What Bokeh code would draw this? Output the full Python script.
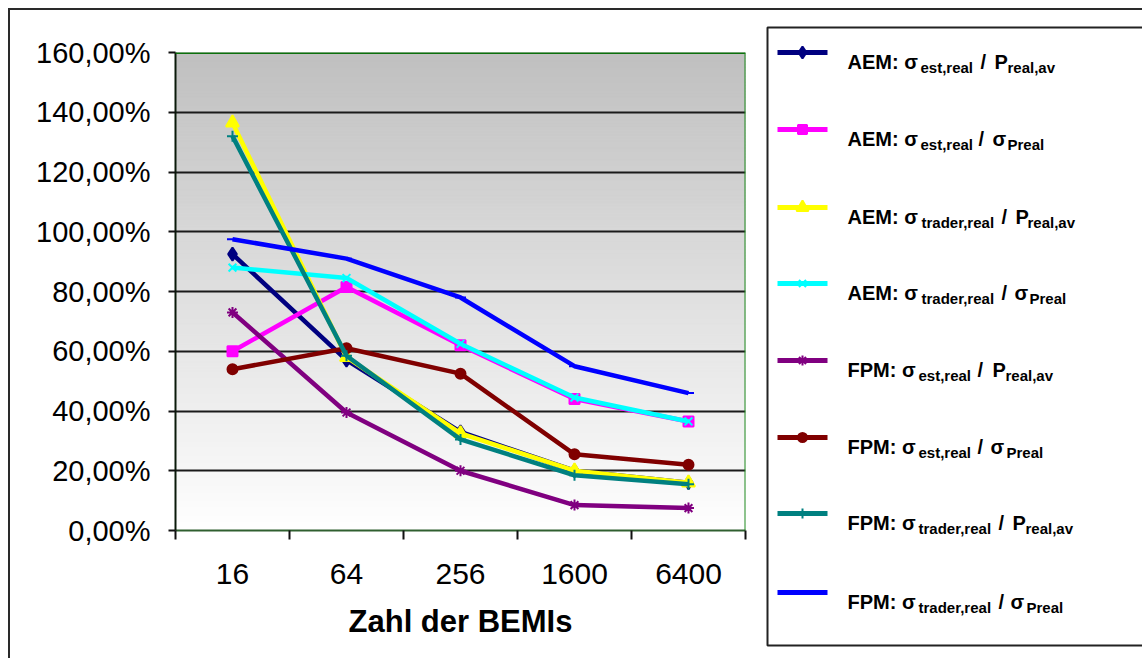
from bokeh.plotting import figure
from bokeh.models import Range1d, FixedTicker, Span
from bokeh.layouts import row
from bokeh.embed import file_html
from bokeh.resources import INLINE
from bokeh.core.properties import value
import numpy as np

# ---------------- data ----------------
categories = ["16", "64", "256", "1600", "6400"]

aem_est_preal_av = [92.5, 57.0, 33.0, 20.0, 16.0]
aem_est_sigma_preal = [60.0, 81.5, 62.0, 44.0, 36.5]
aem_trader_preal_av = [136.5, 58.0, 32.5, 20.0, 16.0]
aem_trader_sigma_preal = [88.0, 84.5, 62.5, 44.5, 36.5]
fpm_est_preal_av = [73.0, 39.5, 20.0, 8.5, 7.5]
fpm_est_sigma_preal = [54.0, 61.0, 52.5, 25.5, 22.0]
fpm_trader_preal_av = [132.0, 58.5, 30.5, 18.5, 15.5]
fpm_trader_sigma_preal = [97.5, 91.0, 78.0, 55.0, 46.0]

series = [aem_est_preal_av, aem_est_sigma_preal, aem_trader_preal_av, aem_trader_sigma_preal,
          fpm_est_preal_av, fpm_est_sigma_preal, fpm_trader_preal_av, fpm_trader_sigma_preal]

legend_prefix = ["AEM: σ", "AEM: σ", "AEM: σ", "AEM: σ", "FPM: σ", "FPM: σ", "FPM: σ", "FPM: σ"]
legend_num_sub = ["est,real", "est,real", "trader,real", "trader,real",
                  "est,real", "est,real", "trader,real", "trader,real"]
legend_den = ["P", "σ", "P", "σ", "P", "σ", "P", "σ"]
legend_den_sub = ["real,av", "Preal", "real,av", "Preal", "real,av", "Preal", "real,av", "Preal"]

y_ticks = [0, 20, 40, 60, 80, 100, 120, 140, 160]
y_tick_labels = ["0,00%", "20,00%", "40,00%", "60,00%", "80,00%",
                 "100,00%", "120,00%", "140,00%", "160,00%"]

x_label = "Zahl der BEMIs"

# ---------------- styles ----------------
colors = ["#000080", "#FF00FF", "#FFFF00", "#00FFFF", "#800080", "#800000", "#008080", "#0000FF"]
markers = ["diamond", "square", "triangle", "x", "asterisk", "circle", "cross", "dash"]
msizes = [13, 10, 13, 11, 11, 10, 11, 11]
FONT = "Liberation Sans"

xs = list(range(len(categories)))

p = figure(width=750, height=648, x_range=Range1d(-0.5, 4.5), y_range=Range1d(0, 160),
           output_backend="svg", toolbar_location=None,
           min_border_left=165, min_border_right=15, min_border_top=42, min_border_bottom=128)
p.outline_line_color = None
p.background_fill_color = "white"
p.border_fill_color = "white"

# gradient background of the plot area (gray at top to white at bottom)
n = 160
edges = np.linspace(0, 160, n + 1)
mids = (edges[:-1] + edges[1:]) / 2
vals = 255 - (255 - 192) * (mids / 160.0)
grad = ["#%02x%02x%02x" % (int(v), int(v), int(v)) for v in vals]
p.quad(left=-0.5, right=4.5, bottom=edges[:-1], top=edges[1:],
       fill_color=grad, line_color=grad, line_width=1, level="image")

# grid
p.xgrid.visible = False
p.ygrid.ticker = FixedTicker(ticks=y_ticks)
p.ygrid.grid_line_color = "#1a1a1a"
p.ygrid.grid_line_width = 2

# y axis
p.yaxis.ticker = FixedTicker(ticks=y_ticks)
p.yaxis.major_label_overrides = dict(zip(y_ticks, y_tick_labels))
p.yaxis.major_label_text_font = FONT
p.yaxis.major_label_text_font_size = "29px"
p.yaxis.major_label_text_color = "black"
p.yaxis.major_tick_out = 7
p.yaxis.major_tick_in = 0
p.yaxis.minor_tick_line_color = None
p.yaxis.major_tick_line_color = "#111111"
p.yaxis.major_tick_line_width = 2
p.yaxis.axis_line_color = "#0a1a0a"
p.yaxis.axis_line_width = 2
p.yaxis.major_label_standoff = 18

# x axis
p.xaxis.ticker = FixedTicker(ticks=xs, minor_ticks=[i - 0.5 for i in range(len(categories) + 1)])
p.xaxis.major_label_overrides = {i: c for i, c in enumerate(categories)}
p.xaxis.major_label_text_font = FONT
p.xaxis.major_label_text_font_size = "30px"
p.xaxis.major_label_text_color = "black"
p.xaxis.major_tick_out = 0
p.xaxis.major_tick_in = 0
p.xaxis.major_tick_line_color = None
p.xaxis.minor_tick_out = 9
p.xaxis.minor_tick_in = 0
p.xaxis.minor_tick_line_color = "#111111"
p.xaxis.minor_tick_line_width = 2
p.xaxis.axis_line_color = "#2f5f2f"
p.xaxis.axis_line_width = 2
p.xaxis.major_label_standoff = 24
p.xaxis.axis_label = x_label
p.xaxis.axis_label_text_font = FONT
p.xaxis.axis_label_text_font_size = "31px"
p.xaxis.axis_label_text_font_style = "bold"
p.xaxis.axis_label_text_color = "black"
p.xaxis.axis_label_standoff = 17

# plot-area border (top and right green)
p.add_layout(Span(location=160, dimension="width", line_color="#0b700b", line_width=3))
p.add_layout(Span(location=4.5, dimension="height", line_color="#1f8a1f", line_width=2))

# series
for vals_s, c, m, s in zip(series, colors, markers, msizes):
    p.line(xs, vals_s, line_color=c, line_width=4.5)
    p.scatter(xs, vals_s, marker=m, size=s, fill_color=c, line_color=c, line_width=2)

# ---------------- legend figure ----------------
LW, LH = 382, 648
lg = figure(width=LW, height=LH, x_range=Range1d(0, LW), y_range=Range1d(LH, 0),
            x_axis_type=None, y_axis_type=None, output_backend="svg", toolbar_location=None,
            min_border=0)
lg.outline_line_color = None
lg.grid.visible = False
lg.background_fill_color = "white"
lg.border_fill_color = "white"

for fig in (p, lg):
    try:
        fig.frame_align = False
    except AttributeError:
        pass

lg.line(x=[LW + 10, 7, 7, LW + 10], y=[17, 17, 635, 635], line_color="#222222", line_width=2)

row_y = [42, 119, 197, 273, 350, 427, 503, 582]
sub_x = [160, 160, 161, 161, 158, 158, 158, 158]
slash_x = [220, 218, 241, 241, 217, 217, 238, 238]
den_x = [234, 232, 255, 254, 232, 230, 252, 250]
densub_x = [247, 247, 267, 269, 245, 246, 265, 266]

lg.segment(x0=[17] * 8, y0=row_y, x1=[67] * 8, y1=row_y, line_color=colors, line_width=5)
for i in range(8):
    lg.scatter([42], [row_y[i]], marker=markers[i], size=msizes[i] - 1,
               fill_color=colors[i], line_color=colors[i], line_width=2)

base = [y + 9 for y in row_y]
sub_base = [y + 15 for y in row_y]

main_txt, main_x, main_y = [], [], []
subs_txt, subs_x, subs_y = [], [], []
for i in range(8):
    main_txt += [legend_prefix[i], "/", legend_den[i]]
    main_x += [87, slash_x[i], den_x[i]]
    main_y += [base[i]] * 3
    subs_txt += [legend_num_sub[i], legend_den_sub[i]]
    subs_x += [sub_x[i], densub_x[i]]
    subs_y += [sub_base[i]] * 2

lg.text(x=main_x, y=main_y, text=main_txt, text_font=value(FONT), text_font_style="bold",
        text_font_size="20px", text_baseline="alphabetic", text_align="left", text_color="black")
lg.text(x=subs_x, y=subs_y, text=subs_txt, text_font=value(FONT), text_font_style="bold",
        text_font_size="15px", text_baseline="alphabetic", text_align="left", text_color="black")

layout = row(p, lg, styles={"margin-left": "8px", "margin-top": "8px",
                            "border-left": "2px solid #2a2a2a", "border-top": "2px solid #2a2a2a"})

open("out.html", "w").write(file_html(layout, INLINE))
